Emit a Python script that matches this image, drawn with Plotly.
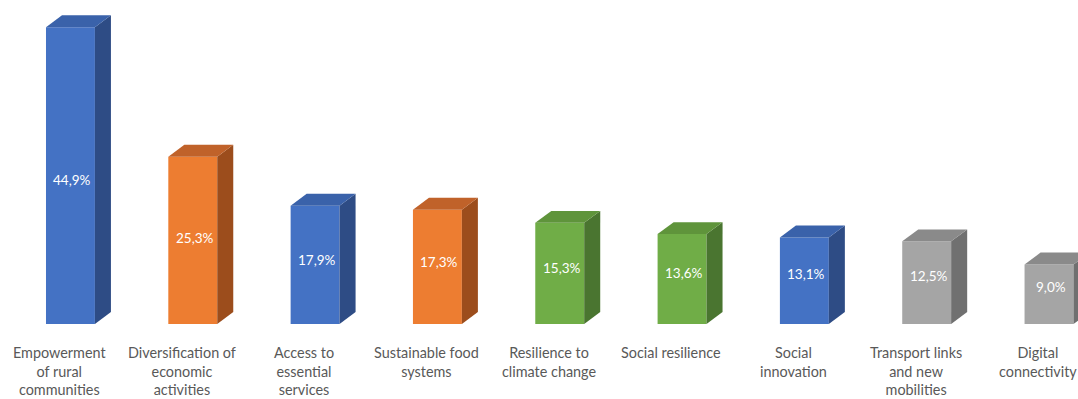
import plotly.graph_objects as go

# Share of respondents per thematic area
categories = [
    "Empowerment<br>of rural<br>communities",
    "Diversification of<br>economic<br>activities",
    "Access to<br>essential<br>services",
    "Sustainable food<br>systems",
    "Resilience to<br>climate change",
    "Social resilience",
    "Social<br>innovation",
    "Transport links<br>and new<br>mobilities",
    "Digital<br>connectivity",
]
values = [44.9, 25.3, 17.9, 17.3, 15.3, 13.6, 13.1, 12.5, 9.0]
value_labels = ["44,9%", "25,3%", "17,9%", "17,3%", "15,3%", "13,6%", "13,1%", "12,5%", "9,0%"]
groups = ["blue", "orange", "blue", "orange", "green", "green", "blue", "gray", "gray"]

# front / side / top face colours for each colour group
palette = {
    "blue":   ("#4472C4", "#2E4C85", "#3A62AA"),
    "orange": ("#ED7D31", "#9C4D1C", "#C0622A"),
    "green":  ("#70AD47", "#4A7530", "#5F943B"),
    "gray":   ("#A5A5A5", "#707070", "#8A8A8A"),
}

BAR_W = 0.40      # front face width (category units)
DEPTH_X = 0.131   # oblique depth, horizontal (category units)
DEPTH_Y = 1.8     # oblique depth, vertical (value units)

fig = go.Figure()
x = list(range(len(values)))

for i, v in enumerate(values):
    front, side, top = palette[groups[i]]
    x0, x1 = i - BAR_W / 2, i + BAR_W / 2
    # right side face
    fig.add_trace(go.Scatter(
        x=[x1, x1 + DEPTH_X, x1 + DEPTH_X, x1, x1],
        y=[0, DEPTH_Y, v + DEPTH_Y, v, 0],
        fill="toself", fillcolor=side, mode="lines",
        line=dict(width=0, color=side), hoverinfo="skip", showlegend=False))
    # top face
    fig.add_trace(go.Scatter(
        x=[x0, x0 + DEPTH_X, x1 + DEPTH_X, x1, x0],
        y=[v, v + DEPTH_Y, v + DEPTH_Y, v, v],
        fill="toself", fillcolor=top, mode="lines",
        line=dict(width=0, color=top), hoverinfo="skip", showlegend=False))

# front faces
fig.add_trace(go.Bar(
    x=x, y=values, width=BAR_W,
    marker=dict(color=[palette[g][0] for g in groups], line=dict(width=0)),
    showlegend=False, hoverinfo="skip"))

annotations = []
for i, v in enumerate(values):
    annotations.append(dict(
        x=i, y=0.45 * v + 1.6, xref="x", yref="y", text=value_labels[i],
        showarrow=False, xshift=2,
        font=dict(family="Lato, Open Sans, sans-serif", size=13.5, color="#FFFFFF")))
    annotations.append(dict(
        x=i, y=0, xref="x", yref="y", text=categories[i],
        showarrow=False, yanchor="top", yshift=-18, xshift=-11,
        font=dict(family="Lato, Open Sans, sans-serif", size=14.4, color="#595959")))

fig.update_layout(
    width=1078, height=399,
    margin=dict(l=0, r=0, t=0, b=0),
    paper_bgcolor="#FFFFFF", plot_bgcolor="#FFFFFF",
    barmode="overlay",
    annotations=annotations,
    xaxis=dict(range=[-0.576, 8.237], visible=False, fixedrange=True),
    yaxis=dict(range=[-11.35, 49.02], visible=False, fixedrange=True),
)

fig.write_html("out.html")
